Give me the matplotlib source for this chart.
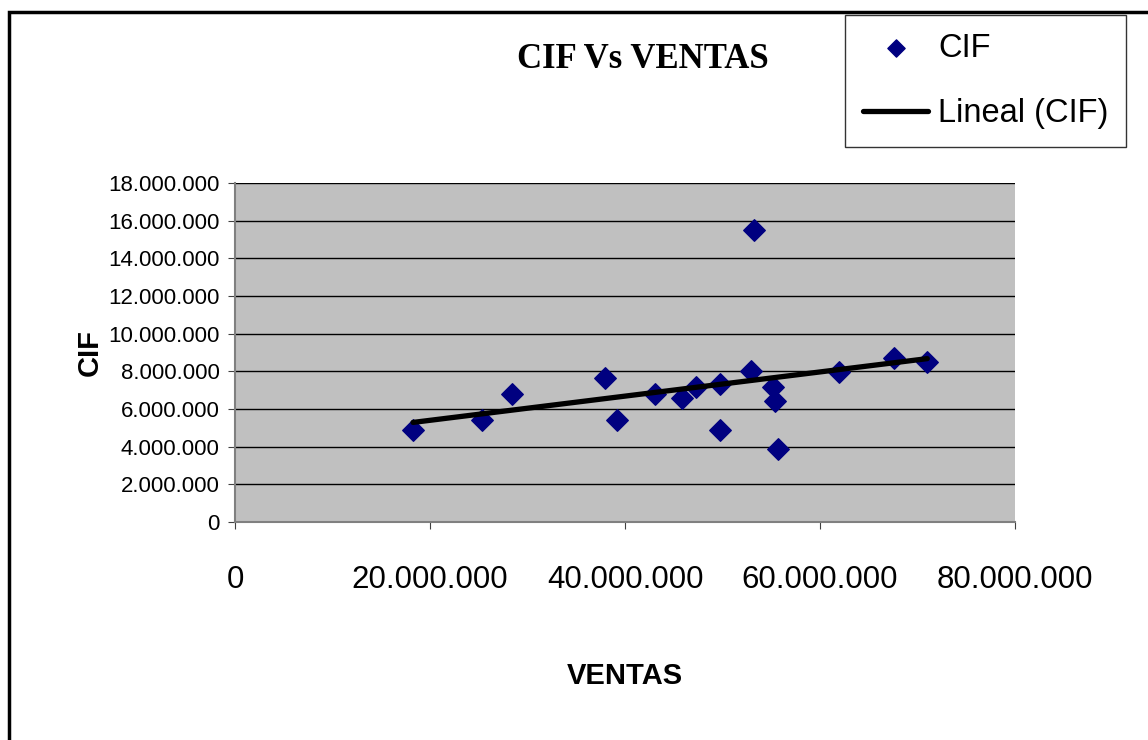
import numpy as np
import matplotlib
matplotlib.use("Agg")
import matplotlib.pyplot as plt
from matplotlib.patches import Rectangle
from matplotlib.ticker import FuncFormatter

ventas = [18.26, 25.3, 28.4, 37.9, 39.2, 43.1, 45.8, 47.3, 49.7, 49.7,
          52.9, 53.2, 55.2, 55.4, 55.7, 61.9, 67.6, 71.0]
cif = [4.89, 5.42, 6.80, 7.65, 5.42, 6.80, 6.60, 7.17, 7.33, 4.89,
       8.02, 15.5, 7.17, 6.43, 3.88, 7.97, 8.70, 8.50]
ventas = np.array(ventas) * 1e6
cif = np.array(cif) * 1e6

plt.rcParams['font.family'] = ['Liberation Sans', 'DejaVu Sans']

fig = plt.figure(figsize=(11.48, 7.4), dpi=100)
ax = fig.add_axes([235/1148, (740-522)/740, (1015-235)/1148, (522-183)/740])
ax.set_facecolor('#C0C0C0')

slope, intercept = np.polyfit(ventas, cif, 1)
xs = np.array([ventas.min(), ventas.max()])
ax.scatter(ventas, cif, marker='D', s=120, color='#000080', zorder=3, label='CIF')
ax.plot(xs, slope*xs + intercept, color='black', lw=3.8, zorder=4,
        solid_capstyle='round', label='Lineal (CIF)')

ax.set_xlim(0, 80e6)
ax.set_ylim(0, 18e6)
ax.set_xticks(np.arange(0, 80e6+1, 20e6))
ax.set_yticks(np.arange(0, 18e6+1, 2e6))
fmt = FuncFormatter(lambda v, p: f"{v:,.0f}".replace(",", "."))
ax.xaxis.set_major_formatter(fmt)
ax.yaxis.set_major_formatter(fmt)
ax.tick_params(axis='x', labelsize=22.5, direction='out', length=5, color='#404040', pad=26)
ax.tick_params(axis='y', labelsize=16, direction='out', length=5, color='#404040', pad=6)
ax.yaxis.grid(True, color='black', lw=1)
ax.set_axisbelow(True)
for s in ['top', 'right']:
    ax.spines[s].set_visible(False)
for s in ['left', 'bottom']:
    ax.spines[s].set_color('#808080')
    ax.spines[s].set_linewidth(1.5)

ax.set_xlabel('VENTAS', fontsize=21, fontweight='bold', labelpad=48)
ax.set_ylabel('CIF', fontsize=21, fontweight='bold', labelpad=3)

fig.text(643/1148, 1-60/740, 'CIF Vs VENTAS', fontsize=25, fontweight='bold',
         family='Liberation Serif', ha='center', va='center')

leg = fig.legend(loc='upper left', bbox_to_anchor=(845/1148, 1-15/740),
                 fontsize=23.5, frameon=True, fancybox=False, edgecolor='black',
                 handlelength=2.0, handletextpad=0.3, borderpad=0.55,
                 labelspacing=1.05, borderaxespad=0, markerscale=0.8)
leg.get_frame().set_linewidth(1)

fig.add_artist(Rectangle((9/1148, -0.1), 1.2, 1.1 - 12/740, transform=fig.transFigure,
                         fill=False, edgecolor='black', lw=2.5))

fig.savefig('out.png', dpi=100)
